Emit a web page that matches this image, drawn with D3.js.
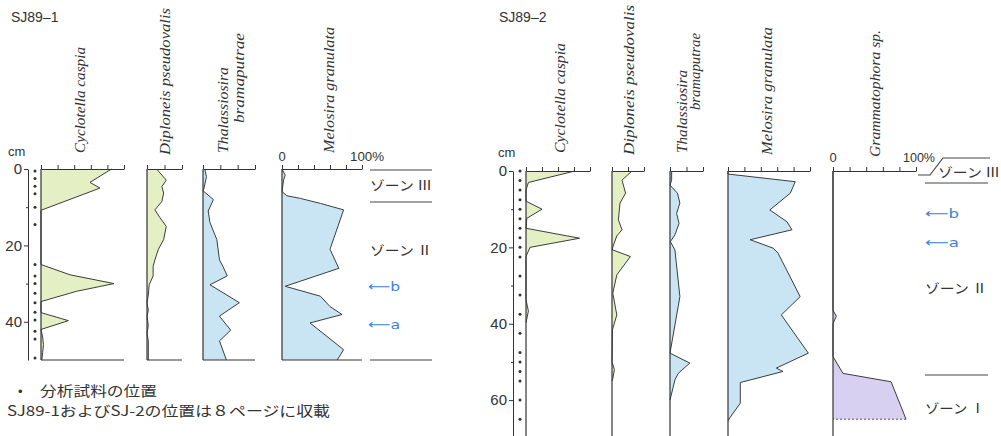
<!DOCTYPE html>
<html>
<head>
<meta charset="utf-8">
<script src="https://cdn.jsdelivr.net/npm/d3@7"></script>
<style>
  body { margin: 0; background: #fff; }
  svg { display: block; font-family: 'Liberation Sans', Arial, sans-serif; }
</style>
</head>
<body>
<div id="viz"></div>
<script>
// sample positions, cm below top
const sj1Samples = [0.5, 2.5, 4.5, 6.5, 10, 14.5, 25, 28, 30, 32.5, 35, 37.5, 39.5, 42.5, 44.5, 49.5];
const sj2Samples = [0, 2.5, 5, 7.5, 10, 12.5, 15, 17.5, 20, 22.5, 27.5, 32.5, 37.5, 42.5, 47.5, 50, 52.5, 55, 60, 65];

// [depth cm, percent]
const sj1Cyclotella = [[0, 85], [3.5, 59], [5, 71], [10.8, 0], [25, 0], [27.7, 35], [30, 88], [32, 43], [34.7, 0],
  [37.6, 0], [39.7, 33], [42, 0], [44, 2], [46, 3], [48, 2], [50, 1]];
const sj1Diploneis = [[0, 11], [2.9, 22], [4.6, 17], [6.3, 19], [8.5, 17], [10.7, 9], [12.8, 15], [15, 22], [18.5, 19],
  [21, 13], [23.8, 9], [25.5, 7], [28, 7], [30.3, 2.5], [33, 1.5], [35, 0], [37, 1.5], [38.5, 0], [41, 1.5], [43, 0],
  [45, 1.5], [50, 1.5]];
const sj1Thalassiosira = [[0, 2], [2, 4], [5.2, 1], [5.7, 0], [8, 12], [11, 6], [14, 8], [18.5, 16], [23.8, 19],
  [25.5, 23], [28, 28], [30.3, 8], [35, 42], [38.5, 19], [42.2, 32], [45, 19], [50, 27]];
const sj1Melosira = [[0, 0], [1.6, 4], [2.9, 2], [5.9, 0], [7, 6], [7.7, 23], [9, 48], [10.7, 77], [21, 60], [26, 71],
  [30.7, 4], [33.3, 48], [36, 60], [38.1, 75], [40.3, 35], [47.3, 77], [50, 69]];

const sj2Cyclotella = [[0, 61], [3, 3], [5, 0], [7.9, 0], [10, 20], [12.4, 1], [15, 0], [17.6, 67], [20, 5], [22.4, 0],
  [33.7, 0], [36.7, 3], [39.7, 0]];
const sj2Diploneis = [[0, 25], [2.4, 12.5], [5.8, 17], [8.4, 10], [12.8, 8], [15.4, 12.5], [17, 6], [19.9, 1],
  [20.6, 0], [22.4, 23], [27.2, 6], [32, 1], [37.7, 6], [41.6, 0.5], [50, 0], [52, 3], [54.4, 1], [55, 0]];
const sj2Thalassiosira = [[0, 2], [2.4, 2], [3.7, 0], [5.8, 9], [8.4, 12], [11.1, 8], [13.7, 11], [16.7, 6],
  [18.5, 0.5], [20.7, 6], [32.9, 12], [47.7, 0], [50.3, 24], [53, 10], [54.7, 6], [60, 0]];
const sj2Melosira = [[0, 0], [0.8, 0], [2.8, 82], [5.8, 76], [10.2, 51], [13.3, 72], [15.4, 78], [18, 27], [20.2, 55],
  [21.5, 61], [32.9, 88], [37.7, 65], [47.7, 98], [51.6, 59], [52.5, 67], [55.4, 15], [60.8, 15], [64.7, 2], [65.5, 0]];
const sj2Grammatophora = [[0, 0], [36.5, 0], [38, 4], [40, 0], [48.6, 0], [53, 12], [55.2, 70], [65, 88]];

const sj1DepthTicks = [0, 10, 20, 30, 40];
const sj2DepthTicks = [0, 10, 20, 30, 40, 50, 60];

const colours = {
  green: '#e4efc3',
  blue: '#c9e5f4',
  purple: '#d8d0f0',
  ink: '#333',
  arrow: '#3b83d8',
};

const svg = d3.select('#viz')
  .append('svg')
  .attr('width', 1001)
  .attr('height', 436);

const txt = (x, y, s, size, opts = {}) => {
  const t = svg.append('text')
    .attr('x', x)
    .attr('y', y)
    .attr('font-size', size)
    .attr('fill', opts.fill || colours.ink)
    .text(s);
  if (opts.family) t.attr('font-family', opts.family);
  if (opts.len) t.attr('textLength', opts.len).attr('lengthAdjust', 'spacingAndGlyphs');
  if (opts.anchor) t.attr('text-anchor', opts.anchor);
  return t;
};

// rotated taxon name, reads bottom to top, starting at yBottom
const taxonLabel = (x, yBottom, s, len) => {
  svg.append('text')
    .attr('transform', `translate(${x}, ${yBottom}) rotate(-90)`)
    .attr('font-family', "'Liberation Serif', 'DejaVu Serif', serif")
    .attr('font-style', 'italic')
    .attr('font-size', 14)
    .attr('fill', colours.ink)
    .attr('textLength', len)
    .attr('lengthAdjust', 'spacingAndGlyphs')
    .text(s);
};

const drawDepthAxis = (y, x, ticks, samples, dotX) => {
  const g = svg.append('g')
    .attr('transform', `translate(${x}, 0)`)
    .call(d3.axisLeft(y)
      .tickValues(ticks)
      .tickSize(4)
      .tickSizeOuter(0)
      .tickPadding(2)
      .tickFormat(d => (d % 20 === 0 ? d : '')));
  g.select('.domain').attr('stroke', colours.ink);
  g.selectAll('.tick line').attr('stroke', colours.ink)
    .attr('x2', d => (d % 20 === 0 ? -4 : -2));
  g.selectAll('.tick text')
    .attr('font-size', 15)
    .attr('font-family', "'Liberation Sans', Arial, sans-serif")
    .attr('fill', colours.ink);

  svg.append('g')
    .selectAll('circle')
    .data(samples)
    .enter()
    .append('circle')
    .attr('cx', dotX)
    .attr('cy', d => y(d))
    .attr('r', 1.5)
    .attr('fill', colours.ink);
};

const drawColumn = (y, c) => {
  const x = d3.scaleLinear().domain([0, c.max]).range([c.x0, c.x0 + c.width]);
  const area = d3.area()
    .y(d => y(d[0]))
    .x0(x(0))
    .x1(d => x(d[1]));
  const line = d3.line()
    .y(d => y(d[0]))
    .x(d => x(d[1]));

  svg.append('path')
    .datum(c.data)
    .attr('d', area)
    .attr('fill', c.fill);
  svg.append('path')
    .datum(c.data)
    .attr('d', line)
    .attr('fill', 'none')
    .attr('stroke', '#3c3c3c')
    .attr('stroke-width', 1);

  if (c.dashedEnd) {
    const last = c.data[c.data.length - 1];
    svg.append('path')
      .datum([last, [last[0], 0]])
      .attr('d', line)
      .attr('fill', 'none')
      .attr('stroke', '#555')
      .attr('stroke-dasharray', '2,2');
  }

  svg.append('line')
    .attr('x1', x(0))
    .attr('x2', x(0))
    .attr('y1', y(0))
    .attr('y2', c.bottom)
    .attr('stroke', colours.ink)
    .attr('stroke-width', 1.2);

  const axis = svg.append('g')
    .attr('transform', `translate(0, ${y(0)})`)
    .call(d3.axisTop(x)
      .tickValues(d3.range(0, c.max + 1, 20))
      .tickSize(4)
      .tickSizeOuter(0)
      .tickFormat(''));
  axis.selectAll('path, line').attr('stroke', colours.ink);

  if (c.baseline) {
    svg.append('line')
      .attr('x1', x(0))
      .attr('x2', x(c.max))
      .attr('y1', y(c.baseline))
      .attr('y2', y(c.baseline))
      .attr('stroke', colours.ink)
      .attr('stroke-width', 1.2);
  }
};

const hline = (x1, x2, yy) => {
  svg.append('line')
    .attr('x1', x1).attr('x2', x2)
    .attr('y1', yy).attr('y2', yy)
    .attr('stroke', '#444')
    .attr('stroke-width', 1.2);
};

const cjk = "'Noto Sans CJK JP', sans-serif";

// ---------- SJ89-1 ----------
const y1 = d3.scaleLinear().domain([0, 50]).range([169, 360]);

txt(11, 22, 'SJ89–1', 14);
txt(8, 156, 'cm', 13);
drawDepthAxis(y1, 28, sj1DepthTicks, sj1Samples, 35);

[
  { data: sj1Cyclotella, max: 100, x0: 41, width: 83, fill: colours.green },
  { data: sj1Diploneis, max: 40, x0: 147, width: 35, fill: colours.green },
  { data: sj1Thalassiosira, max: 60, x0: 203, width: 52, fill: colours.blue },
  { data: sj1Melosira, max: 100, x0: 282, width: 80, fill: colours.blue },
].forEach(c => drawColumn(y1, { ...c, bottom: y1(50), baseline: 50 }));

taxonLabel(85, 153, 'Cyclotella caspia', 106);
taxonLabel(170, 155, 'Diploneis pseudovalis', 147);
taxonLabel(228, 153, 'Thalassiosira', 86);
taxonLabel(244, 123, 'bramaputrae', 90);
taxonLabel(334, 153, 'Melosira granulata', 126);
txt(282, 161, '0', 13, { anchor: 'middle' });
txt(350, 161, '100%', 13, { len: 34 });

hline(370, 432, 170);
hline(370, 432, 202);
hline(370, 432, 360);
txt(370, 190, 'ゾーン Ⅲ', 13, { family: cjk, len: 62 });
txt(370, 255, 'ゾーン Ⅱ', 13, { family: cjk, len: 62 });
txt(368, 291, '⟵b', 13, { family: "'DejaVu Sans', sans-serif", fill: colours.arrow, len: 32 });
txt(368, 329, '⟵a', 13, { family: "'DejaVu Sans', sans-serif", fill: colours.arrow, len: 32 });

txt(18, 396, '•', 13);
txt(40, 396, '分析試料の位置', 14, { family: cjk, len: 117 });
txt(7, 416, 'SJ89-1およびSJ-2の位置は８ページに収載', 14, { family: cjk, len: 323 });

// ---------- SJ89-2 ----------
const y2 = d3.scaleLinear().domain([0, 69.4]).range([171, 436]);

txt(499, 22, 'SJ89–2', 14);
txt(498, 157, 'cm', 13);
drawDepthAxis(y2, 513, sj2DepthTicks, sj2Samples, 520);

[
  { data: sj2Cyclotella, max: 80, x0: 526, width: 64, fill: colours.green },
  { data: sj2Diploneis, max: 40, x0: 612, width: 32, fill: colours.green },
  { data: sj2Thalassiosira, max: 40, x0: 670, width: 33, fill: colours.blue },
  { data: sj2Melosira, max: 100, x0: 728, width: 82, fill: colours.blue },
  { data: sj2Grammatophora, max: 100, x0: 833, width: 83, fill: colours.purple, dashedEnd: true },
].forEach(c => drawColumn(y2, { ...c, bottom: 436 }));

taxonLabel(565, 153, 'Cyclotella caspia', 110);
taxonLabel(634, 155, 'Diploneis pseudovalis', 150);
taxonLabel(687, 153, 'Thalassiosira', 83);
taxonLabel(700, 110, 'bramaputrae', 77);
taxonLabel(772, 155, 'Melosira granulata', 128);
taxonLabel(880, 157, 'Grammatophora sp.', 127);
txt(833, 162, '0', 13, { anchor: 'middle' });
txt(903, 162, '100%', 13, { len: 32 });

// broken zone III boundary
svg.append('path')
  .attr('d', 'M918,175 H930 L943,158 H990')
  .attr('fill', 'none')
  .attr('stroke', '#444')
  .attr('stroke-width', 1.2);
hline(925, 988, 183);
hline(925, 988, 375);
txt(938, 177, 'ゾーン Ⅲ', 13, { family: cjk, len: 62 });
txt(925, 218, '⟵b', 13, { family: "'DejaVu Sans', sans-serif", fill: colours.arrow, len: 34 });
txt(925, 247, '⟵a', 13, { family: "'DejaVu Sans', sans-serif", fill: colours.arrow, len: 34 });
txt(925, 293, 'ゾーン Ⅱ', 13, { family: cjk, len: 62 });
txt(925, 413, 'ゾーン Ⅰ', 13, { family: cjk, len: 60 });
</script>
</body>
</html>
